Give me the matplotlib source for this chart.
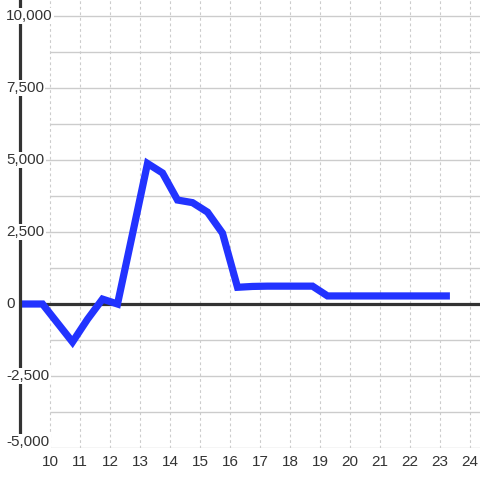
import matplotlib
matplotlib.use("Agg")
import matplotlib.pyplot as plt
import matplotlib.transforms as mtransforms

# hourly profile, half-hour steps
hours = [9.0, 9.75, 10.25, 10.75, 11.25, 11.75, 12.25, 12.75, 13.25, 13.75,
         14.25, 14.75, 15.25, 15.75, 16.25, 16.75, 17.25, 17.75, 18.25, 18.75,
         19.25, 19.75, 20.25, 20.75, 21.25, 21.75, 22.25, 22.75, 23.33]
values = [0, 0, -660, -1320, -530, 170, 0, 2430, 4880, 4550,
          3610, 3520, 3190, 2460, 580, 610, 620, 620, 620, 620,
          280, 280, 280, 280, 280, 280, 280, 280, 280]

x_ticks = list(range(10, 25))
y_major = [10000, 7500, 5000, 2500, 0, -2500, -5000]
y_minor = [8750, 6250, 3750, 1250, -1250, -3750]
y_labels = ["10,000", "7,500", "5,000", "2,500", "0", "-2,500", "-5,000"]

plt.rcParams["font.family"] = ["Liberation Sans", "DejaVu Sans"]
text_color = "#333333"
grid_color = "#cccccc"

fig = plt.figure(figsize=(4.8, 4.8), dpi=100)
ax = fig.add_axes([20 / 480, 32 / 480, 460 / 480, 448 / 480])
ax.set_xlim(9, 24.333)
ax.set_ylim(-5000, 10556)

# vertical dotted grid
for h in x_ticks:
    ax.axvline(h, color=grid_color, lw=0.8, ls=(0, (2.5, 2.5)), zorder=1)

# horizontal grid, labelled lines reach a bit further left
for v in y_major:
    if v != 0:
        ax.hlines(v, 9.75, 24.333, color=grid_color, lw=1, zorder=1)
for v in y_minor:
    ax.hlines(v, 10, 24.333, color=grid_color, lw=1, zorder=1)

ax.axhline(0, color=text_color, lw=2.3, zorder=2)

ax.plot(hours, values, color="#2233ff", lw=5.2, zorder=3,
        solid_joinstyle="miter", solid_capstyle="butt")

for s in ["top", "right", "bottom"]:
    ax.spines[s].set_visible(False)
ax.spines["left"].set_linewidth(2.3)
ax.spines["left"].set_color(text_color)
ax.spines["left"].set_zorder(4)

ax.set_yticks([])
ax.set_xticks(x_ticks)
ax.set_xticklabels([str(h) for h in x_ticks], fontsize=11, color=text_color)
ax.tick_params(axis="x", length=0, pad=5)

trans = mtransforms.blended_transform_factory(fig.transFigure, ax.transData)
for v, lab in zip(y_major, y_labels):
    # bottom label sits a little above its line
    yoff = 200 if v == -5000 else 0
    ax.text(6 / 480, v + yoff, lab, transform=trans, ha="left", va="center",
            fontsize=11, color=text_color, clip_on=False, zorder=5,
            bbox=dict(facecolor="white", edgecolor="none", pad=1))

fig.savefig("out.png", dpi=100)
